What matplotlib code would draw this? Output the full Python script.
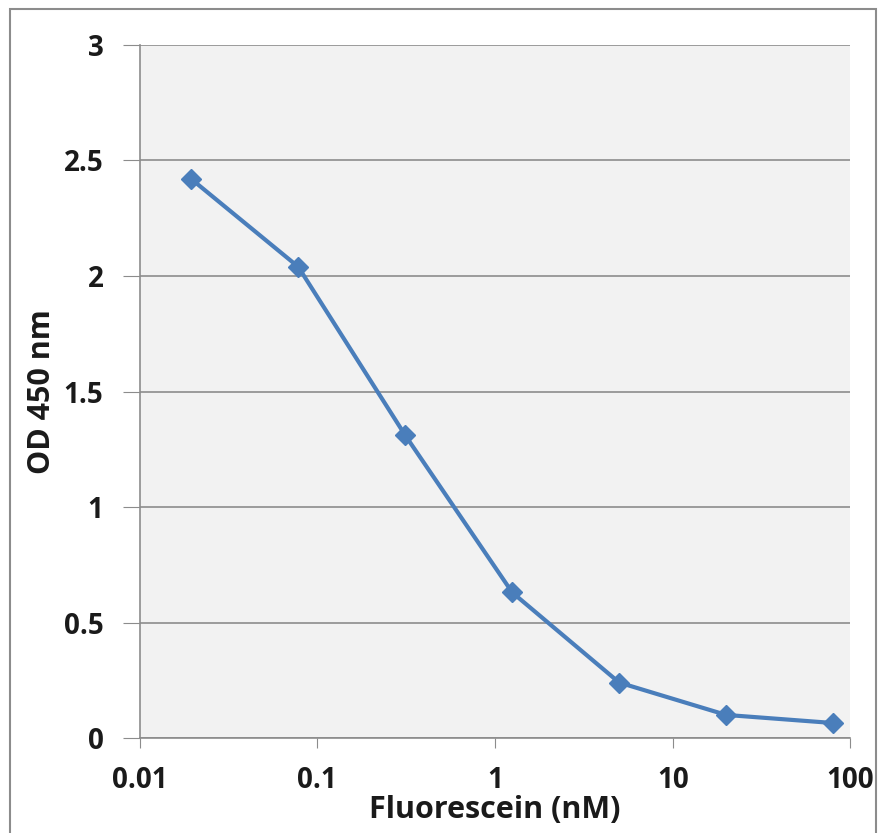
import matplotlib.pyplot as plt, numpy as np
from matplotlib.ticker import FixedLocator, FixedFormatter, NullLocator
from matplotlib.patches import Rectangle

# fluorescein standard curve, 4-fold dilutions
conc = [0.0195, 0.078, 0.3125, 1.25, 5, 20, 80]
od450 = [2.42, 2.04, 1.31, 0.63, 0.24, 0.10, 0.065]
xticks = [0.01, 0.1, 1, 10, 100]
xlabels = ['0.01', '0.1', '1', '10', '100']
yticks = [0, 0.5, 1, 1.5, 2, 2.5, 3]
ylabels = ['0', '0.5', '1', '1.5', '2', '2.5', '3']

plt.rcParams['font.family'] = ['Open Sans', 'DejaVu Sans']

fig = plt.figure(figsize=(8.84, 8.33), dpi=100)
ax = fig.add_axes([0.158, 0.114, 0.804, 0.832])
ax.set_facecolor('#f2f2f2')

ax.plot(conc, od450, color='#4a7ebb', lw=3, marker='D', ms=10,
        markerfacecolor='#4a7ebb', markeredgecolor='#4a7ebb', zorder=3)

ax.set_xscale('log')
ax.set_xlim(0.01, 100)
ax.set_ylim(0, 3)
ax.xaxis.set_major_locator(FixedLocator(xticks))
ax.xaxis.set_major_formatter(FixedFormatter(xlabels))
ax.xaxis.set_minor_locator(NullLocator())
ax.set_yticks(yticks)
ax.set_yticklabels(ylabels)
ax.yaxis.grid(True, color='#8c8c8c', lw=1.2)
ax.set_axisbelow(True)

for s in ['top', 'right']:
    ax.spines[s].set_visible(False)
for s in ['left', 'bottom']:
    ax.spines[s].set_color('#8c8c8c')
    ax.spines[s].set_linewidth(1.2)

ax.tick_params(axis='y', length=12, color='#8c8c8c', labelsize=20, pad=14)
ax.tick_params(axis='x', length=7, color='#8c8c8c', labelsize=20, pad=13)
for lab in ax.get_xticklabels() + ax.get_yticklabels():
    lab.set_fontweight('bold')
    lab.set_color('#1a1a1a')

ax.set_xlabel('Fluorescein (nM)', fontsize=22, fontweight='bold', labelpad=0, color='#1a1a1a')
ax.set_ylabel('OD 450 nm', fontsize=22, fontweight='bold', labelpad=5, color='#1a1a1a')

fig.patches.append(Rectangle((0.011, -0.01), 0.98, 0.999, transform=fig.transFigure,
                             fill=False, edgecolor='#8c8c8c', lw=1.5))

fig.savefig('out.png', dpi=100)
